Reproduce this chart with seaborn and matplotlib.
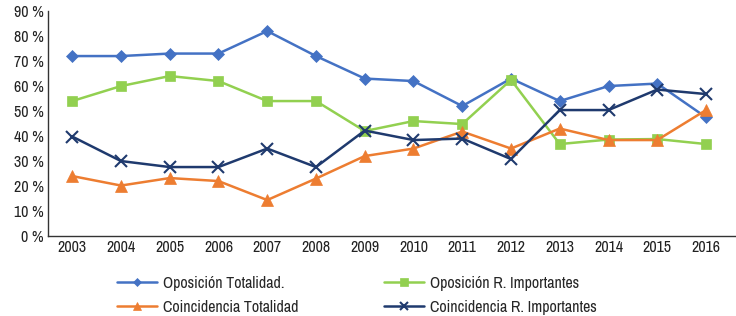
import matplotlib
matplotlib.use("Agg")
import matplotlib.pyplot as plt
import seaborn as sns
import pandas as pd
from matplotlib.ticker import FuncFormatter
from matplotlib import font_manager

years = list(range(2003, 2017))
oposicion_totalidad = [72, 72, 73, 73, 82, 72, 63, 62, 52, 63, 54, 60, 61, 47.5]
oposicion_r_importantes = [54, 60, 64, 62, 54, 54, 42, 46, 44.8, 62.5, 36.8, 38.6, 38.8, 36.8]
coincidencia_totalidad = [24, 20.2, 23.2, 22, 14.4, 23, 32, 35, 41.8, 35, 43, 38.4, 38.4, 50.4]
coincidencia_r_importantes = [39.8, 30, 27.6, 27.6, 35, 27.6, 42.2, 38.4, 39, 30.8, 50.4, 50.4, 58.6, 56.8]

series_names = ["Oposición Totalidad.", "Oposición R. Importantes",
                "Coincidencia Totalidad", "Coincidencia R. Importantes"]
series_values = [oposicion_totalidad, oposicion_r_importantes,
                 coincidencia_totalidad, coincidencia_r_importantes]
colors = ["#4472C4", "#92D050", "#ED7D31", "#1F3A6E"]
markers = ["D", "s", "^", "x"]
msizes = [6.5, 7.5, 8, 8]

sns.set_style("white")
fam = None
for f in font_manager.fontManager.ttflist:
    if "Narrow" in f.name:
        fam = f.name
        break
if fam is None:
    plt.rcParams['font.family'] = ['DejaVu Sans']
    plt.rcParams['font.stretch'] = 'condensed'
else:
    plt.rcParams['font.family'] = [fam, 'DejaVu Sans']

FS = 11.5
fig = plt.figure(figsize=(7.36, 3.16), dpi=100)
ax = fig.add_axes([0.065, 0.253, 0.934, 0.712])

for name, vals, c, m, ms in zip(series_names, series_values, colors, markers, msizes):
    df = pd.DataFrame({"year": years, "value": vals})
    sns.lineplot(data=df, x="year", y="value", ax=ax, color=c, marker=m,
                 markersize=ms, linewidth=1.8, markeredgecolor=c,
                 markeredgewidth=1.5 if m == "x" else 0.5, label=name)
handles_list, labels_list = ax.get_legend_handles_labels()
ax.get_legend().remove()

ax.set_xlim(2002.5, 2016.6)
ax.set_ylim(0, 90)
ax.set_yticks(range(0, 91, 10))
ax.yaxis.set_major_formatter(FuncFormatter(lambda v, p: f"{int(v)} %"))
ax.set_xticks(years)
ax.set_xticklabels([str(y) for y in years])
ax.set_xlabel("")
ax.set_ylabel("")
ax.tick_params(axis="both", length=0, labelsize=FS, colors="#222222", pad=3)
for s in ["top", "right"]:
    ax.spines[s].set_visible(False)
for s in ["left", "bottom"]:
    ax.spines[s].set_color("#333333")
    ax.spines[s].set_linewidth(1.0)
ax.grid(False)

order = [0, 2, 1, 3]
fig.legend([handles_list[i] for i in order], [labels_list[i] for i in order],
           ncol=2, frameon=False, loc="upper left", bbox_to_anchor=(0.159, 0.127),
           fontsize=FS, handlelength=2.5, columnspacing=5.4, labelspacing=0.55,
           handletextpad=0.35, borderaxespad=0, borderpad=0, markerscale=0.7)

fig.savefig("out.png", dpi=100)
